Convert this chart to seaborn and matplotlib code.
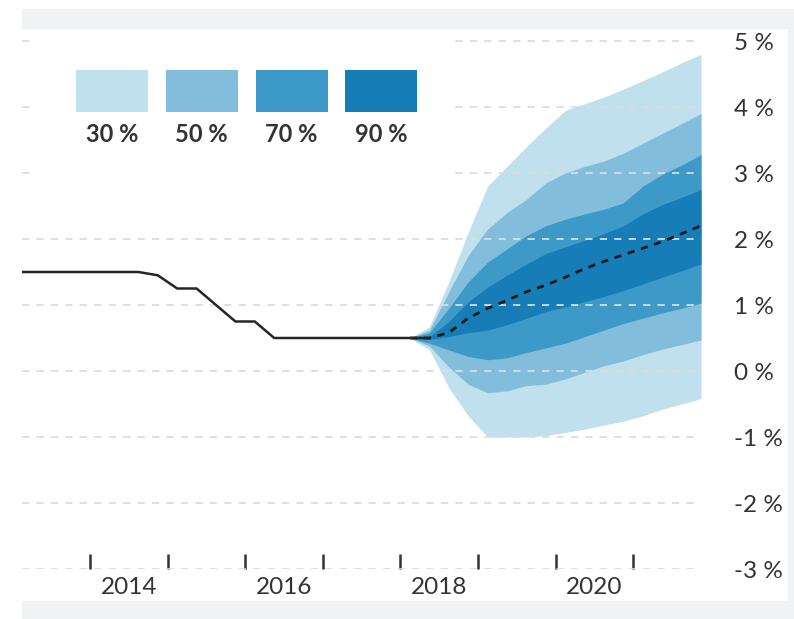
"""
Policy rate with fan chart (quarterly), forecast bands 2018-2021.
"""

import numpy as np
import pandas as pd
import matplotlib
matplotlib.use("Agg")
import matplotlib.pyplot as plt
from matplotlib.patches import Rectangle
import seaborn as sns

# ── data ─────────────────────────────────────────────────────────────────────
hist_quarters = pd.period_range("2013Q1", "2018Q2", freq="Q")
hist_rate = [1.5, 1.5, 1.5, 1.5,
             1.5, 1.5, 1.5, 1.45,
             1.25, 1.25, 1.0, 0.75,
             0.75, 0.5, 0.5, 0.5,
             0.5, 0.5, 0.5, 0.5,
             0.5, 0.5]

fc_quarters = pd.period_range("2018Q1", "2021Q4", freq="Q")
median = [0.5, 0.5, 0.58, 0.8, 0.95, 1.07, 1.2, 1.3,
          1.42, 1.55, 1.66, 1.76, 1.86, 1.96, 2.08, 2.2]

# bands from outermost (lightest) to innermost (darkest)
lo_30 = [0.5, 0.32, -0.25, -0.68, -1.0, -1.0, -1.0, -0.98,
         -0.93, -0.88, -0.82, -0.76, -0.68, -0.58, -0.5, -0.42]
hi_30 = [0.5, 0.67, 1.35, 2.1, 2.8, 3.1, 3.4, 3.68,
         3.95, 4.05, 4.15, 4.27, 4.4, 4.53, 4.67, 4.8]
lo_50 = [0.5, 0.38, 0.06, -0.2, -0.33, -0.3, -0.22, -0.2,
         -0.12, -0.02, 0.08, 0.15, 0.25, 0.33, 0.4, 0.47]
hi_50 = [0.5, 0.62, 1.2, 1.75, 2.15, 2.4, 2.6, 2.85,
         3.0, 3.1, 3.18, 3.3, 3.45, 3.6, 3.75, 3.9]
lo_70 = [0.5, 0.42, 0.32, 0.22, 0.17, 0.2, 0.28, 0.35,
         0.42, 0.52, 0.62, 0.72, 0.8, 0.88, 0.95, 1.03]
hi_70 = [0.5, 0.58, 0.95, 1.35, 1.65, 1.85, 2.05, 2.2,
         2.3, 2.38, 2.45, 2.55, 2.8, 2.98, 3.12, 3.28]
lo_90 = [0.5, 0.48, 0.52, 0.58, 0.62, 0.7, 0.8, 0.9,
         0.97, 1.05, 1.13, 1.22, 1.32, 1.42, 1.52, 1.62]
hi_90 = [0.5, 0.52, 0.75, 1.05, 1.27, 1.45, 1.62, 1.78,
         1.88, 1.98, 2.08, 2.2, 2.38, 2.52, 2.63, 2.75]

band_labels = ["30 %", "50 %", "70 %", "90 %"]
band_colors = ["#c0e0ee", "#82bedb", "#3d9ac8", "#167db7"]

y_ticks = [-3, -2, -1, 0, 1, 2, 3, 4, 5]
year_labels = [2014, 2016, 2018, 2020]


def mid_quarter(periods):
    return np.array([p.year + (p.quarter - 1) / 4 + 0.125 for p in periods])


hist = pd.DataFrame({"x": mid_quarter(hist_quarters), "rate": hist_rate})
fc = pd.DataFrame({"x": mid_quarter(fc_quarters), "median": median})

# ── style ────────────────────────────────────────────────────────────────────
sns.set_theme(style="white")
plt.rcParams["font.family"] = ["Lato", "DejaVu Sans"]
TXT = "#333333"

fig = plt.figure(figsize=(7.94, 6.19), dpi=100)
fig.patch.set_facecolor("white")
ax = fig.add_axes([22 / 794, 1 - 569 / 619, 679 / 794, 539 / 619])
ax.set_facecolor("white")

# screenshot frame bands
for (x0, y0, w, h) in [(22, 9, 772, 19), (22, 601, 772, 18), (788, 9, 6, 610)]:
    fig.patches.append(Rectangle((x0 / 794, 1 - (y0 + h) / 619), w / 794, h / 619,
                                 transform=fig.transFigure, color="#f1f2f4",
                                 zorder=0))

# fan bands
bands = [(lo_30, hi_30), (lo_50, hi_50), (lo_70, hi_70), (lo_90, hi_90)]
for (lo, hi), col in zip(bands, band_colors):
    ax.fill_between(fc["x"], lo, hi, color=col, linewidth=0, zorder=1)

sns.lineplot(data=fc, x="x", y="median", ax=ax, color="#1a1a1a", lw=2.0,
             linestyle=(0, (2.6, 2.4)), zorder=4)
sns.lineplot(data=hist, x="x", y="rate", ax=ax, color="#262626", lw=1.8,
             zorder=4)

# axes
ax.set_xlim(2013.125, 2021.875)
ax.set_ylim(-3, -3 + 539 / 66)
for s in ax.spines.values():
    s.set_visible(False)
ax.set_xlabel("")
ax.set_ylabel("")

ax.yaxis.tick_right()
ax.set_yticks(y_ticks)
ax.set_yticklabels([f"{v} %" for v in y_ticks], fontsize=17.5, color=TXT)
ax.tick_params(axis="y", length=0, pad=24)
ax.set_axisbelow(False)
ax.yaxis.grid(True, color="#dcdcdc", lw=1.3, linestyle=(0, (4, 4)))
ax.xaxis.grid(False)

ax.set_xticks(np.arange(2014, 2022))
ax.set_xticklabels([])
ax.set_xticks([y + 0.5 for y in year_labels], minor=True)
ax.set_xticklabels([str(y) for y in year_labels], minor=True,
                   fontsize=17.5, color=TXT)
ax.tick_params(axis="x", which="major", bottom=True, direction="in",
               length=11, width=1.8, color=TXT, pad=2)
ax.tick_params(axis="x", which="minor", bottom=True, length=0, pad=6)

# legend: white box with swatches above labels
def ax_x(px):
    return (px - 22) / 679


def ax_y(py):
    return (569 - py) / 539


ax.add_patch(Rectangle((ax_x(35), ax_y(183)), ax_x(452) - ax_x(35),
                       ax_y(30) - ax_y(183), transform=ax.transAxes,
                       facecolor="white", edgecolor="none", zorder=5,
                       clip_on=False))
for i, (lab, col) in enumerate(zip(band_labels, band_colors)):
    x0 = 76 + i * 89.8
    ax.add_patch(Rectangle((ax_x(x0), ax_y(112)), ax_x(x0 + 72) - ax_x(x0),
                           ax_y(70) - ax_y(112), transform=ax.transAxes,
                           facecolor=col, edgecolor="none", zorder=6))
    ax.text(ax_x(x0 + 36), ax_y(135), lab, transform=ax.transAxes,
            ha="center", va="center", fontsize=17, fontweight="bold",
            color=TXT, zorder=7)

plt.savefig("out.png", dpi=100)
plt.close()
